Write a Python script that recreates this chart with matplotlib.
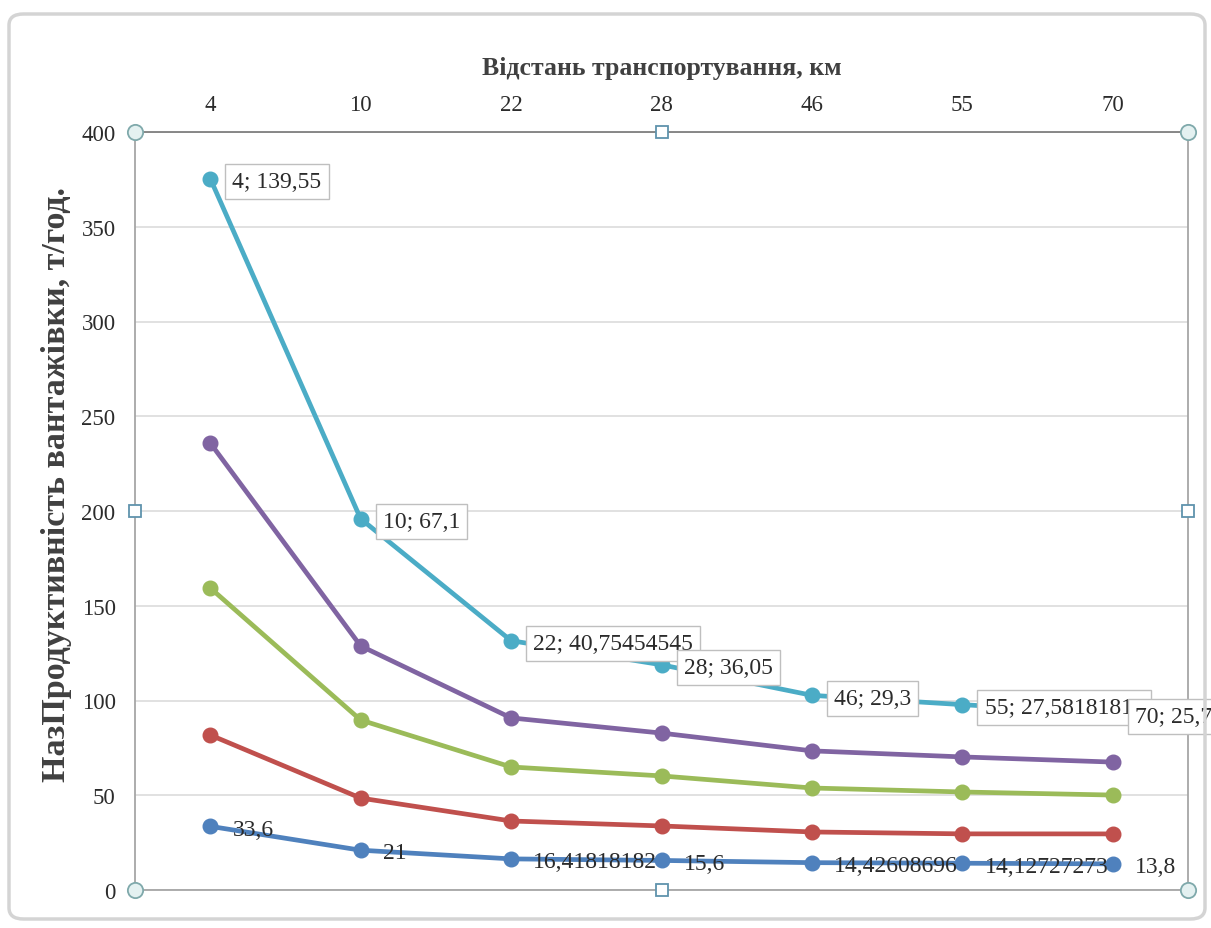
import numpy as np
import matplotlib.pyplot as plt
from matplotlib.patches import FancyBboxPatch

plt.rcParams['font.family'] = ['Liberation Serif', 'DejaVu Serif']

# Відстань транспортування, км
distances = ['4', '10', '22', '28', '46', '55', '70']

# окремі ряди (графік з накопиченням)
blue = [33.6, 21, 16.41818182, 15.6, 14.42608696, 14.12727273, 13.8]
red = [48.2, 27.5, 20.0, 18.2, 16.2, 15.5, 15.8]
green = [77.6, 41.2, 28.5, 26.4, 23.2, 22.1, 20.5]
purple = [76.5, 39.1, 25.9, 22.6, 19.6, 18.5, 17.4]
cyan = [139.55, 67.1, 40.75454545, 36.05, 29.3, 27.58181818, 25.7]

blue_labels = ['33,6', '21', '16,41818182', '15,6', '14,42608696', '14,12727273', '13,8']
cyan_labels = ['4; 139,55', '10; 67,1', '22; 40,75454545', '28; 36,05',
               '46; 29,3', '55; 27,58181818', '70; 25,7']

series = [blue, red, green, purple, cyan]
colors = ['#4F81BD', '#C0504D', '#9BBB59', '#8064A2', '#4BACC6']
txt = '#2b2b2b'

fig = plt.figure(figsize=(12.11, 9.29), dpi=100)
ax = fig.add_axes([135 / 1211, 1 - 891 / 929, (1188 - 135) / 1211, (891 - 133) / 929])

x = np.arange(len(distances))
totals = np.cumsum(np.array(series), axis=0)

for tot, c in zip(totals, colors):
    ax.plot(x, tot, color=c, lw=3.4, marker='o', ms=10.5, zorder=3)

ax.set_xlim(-0.5, len(distances) - 0.5)
ax.set_ylim(0, 400)
ax.set_yticks(np.arange(0, 401, 50))
ax.set_xticks(x)
ax.set_xticklabels(distances)
ax.xaxis.tick_top()
ax.xaxis.set_label_position('top')
ax.tick_params(axis='both', length=0, labelsize=16.5, labelcolor=txt)
ax.tick_params(axis='y', pad=14)
ax.tick_params(axis='x', pad=12)
ax.grid(axis='y', color='#dcdcdc', lw=1.2)
ax.set_axisbelow(True)
for s in ax.spines.values():
    s.set_color('#a6a6a6')
    s.set_linewidth(1.3)
ax.spines['top'].set_color('#7f7f7f')

ax.set_xlabel('Відстань транспортування, км', fontsize=18.5, fontweight='bold',
              color='#404040', labelpad=15)
fig.text(57 / 1211, 1 - 485 / 929, 'НазПродуктивність вантажівки, т/год.',
         rotation=90, ha='center', va='center', fontsize=24.5, fontweight='bold',
         color='#404040')

# підписи даних
for i in range(len(x)):
    ax.annotate(cyan_labels[i], (x[i], totals[4][i]), xytext=(16, -2),
                textcoords='offset points', ha='left', va='center',
                fontsize=17, color=txt, zorder=5, annotation_clip=False,
                bbox=dict(boxstyle='square,pad=0.3', fc='white', ec='#bfbfbf', lw=1))
    ax.annotate(blue_labels[i], (x[i], totals[0][i]), xytext=(16, -2),
                textcoords='offset points', ha='left', va='center',
                fontsize=17, color=txt, zorder=5)

# маркери виділення області побудови
for px, py in [(0, 0), (1, 0), (0, 1), (1, 1)]:
    ax.plot(px, py, 'o', ms=11, mfc='#e4f1f1', mec='#7fa9ab', mew=1.3,
            transform=ax.transAxes, clip_on=False, zorder=6)
for px, py in [(0.5, 0), (0.5, 1), (0, 0.5), (1, 0.5)]:
    ax.plot(px, py, 's', ms=8.5, mfc='white', mec='#5f93ad', mew=1.3,
            transform=ax.transAxes, clip_on=False, zorder=6)

border = FancyBboxPatch((9 / 1211, 1 - 920 / 929), (1205 - 9) / 1211, (920 - 15) / 929,
                        boxstyle='round,pad=0,rounding_size=0.012',
                        transform=fig.transFigure, fc='none', ec='#d4d4d4', lw=2.5)
fig.patches.append(border)

fig.savefig('out.png', dpi=100)
